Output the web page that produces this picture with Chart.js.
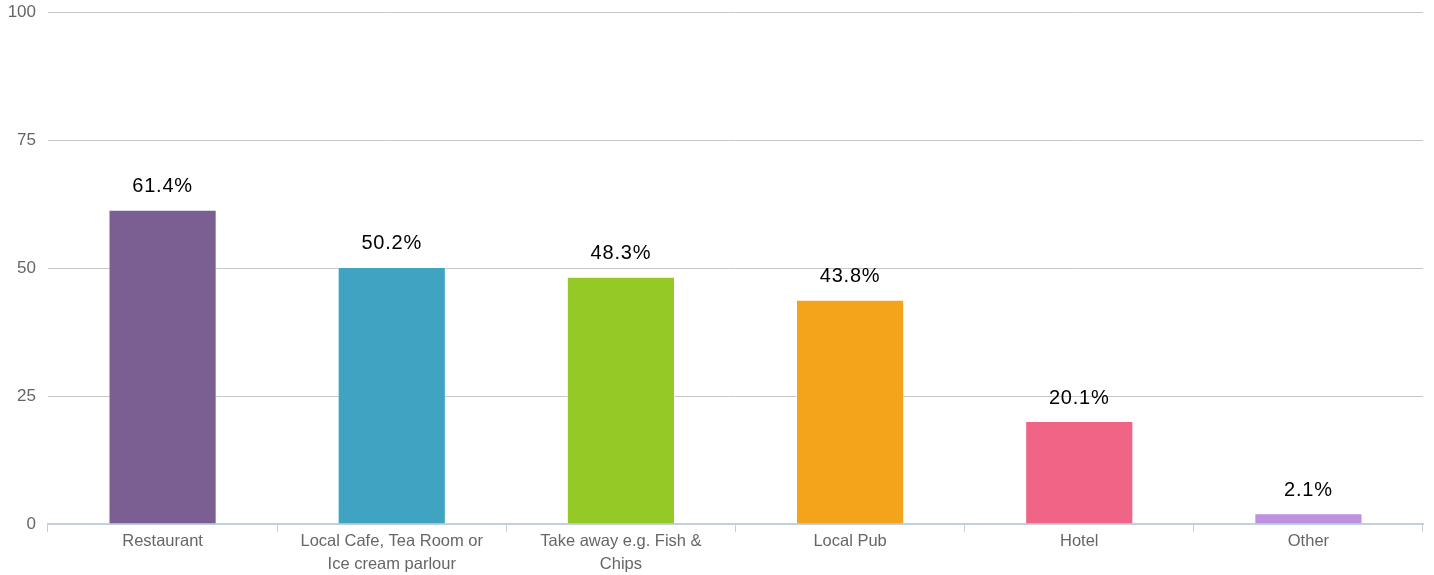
<!DOCTYPE html>
<html>
<head>
<meta charset="utf-8">
<script src="https://cdn.jsdelivr.net/npm/chart.js@4/dist/chart.umd.min.js"></script>
<style>
html,body{margin:0;padding:0;background:#fff;}
#wrap{width:1434px;height:575px;position:relative;}
</style>
</head>
<body>
<div id="wrap"><canvas id="c" width="1434" height="575"></canvas></div>
<script>
const categories = ["Restaurant", ["Local Cafe, Tea Room or","Ice cream parlour"], ["Take away e.g. Fish &","Chips"], "Local Pub", "Hotel", "Other"];
const values = [61.4, 50.2, 48.3, 43.8, 20.1, 2.1];
const barColors = ["#7b5f92", "#3fa3c1", "#95c926", "#f4a41b", "#f06486", "#be90e0"];
const yTicks = [0, 25, 50, 75, 100];

const FONT = '"Liberation Sans", Arial, sans-serif';

const labelPlugin = {
  id: 'valueLabels',
  afterDatasetsDraw(chart) {
    const ctx = chart.ctx;
    const meta = chart.getDatasetMeta(0);
    ctx.save();
    ctx.font = '20px ' + FONT;
    if ('letterSpacing' in ctx) ctx.letterSpacing = '0.8px';
    ctx.fillStyle = '#000';
    ctx.textAlign = 'center';
    ctx.textBaseline = 'middle';
    meta.data.forEach((bar, i) => {
      ctx.fillText(values[i].toFixed(1) + '%', bar.x, bar.y - 23);
    });
    ctx.restore();
  }
};

new Chart(document.getElementById('c'), {
  type: 'bar',
  data: {
    labels: categories,
    datasets: [{
      data: values,
      backgroundColor: barColors,
      borderColor: 'rgba(255,255,255,0.6)',
      borderWidth: 1,
      barPercentage: 1,
      categoryPercentage: 0.472
    }]
  },
  options: {
    responsive: false,
    animation: false,
    layout: { padding: { top: 12, right: 11, left: 0, bottom: 0 } },
    plugins: { legend: { display: false }, tooltip: { enabled: false } },
    scales: {
      y: {
        min: 0, max: 100,
        afterBuildTicks(axis) { axis.ticks = yTicks.map(v => ({ value: v })); },
        afterFit(scale) { scale.width = 48; scale.paddingTop = 0; scale.paddingBottom = 0; },
        border: { display: false },
        grid: {
          drawTicks: false,
          color: (c) => c.tick && c.tick.value === 0 ? 'rgba(0,0,0,0)' : '#c6c6c6',
          lineWidth: 1
        },
        ticks: {
          padding: 12,
          color: '#666',
          font: { family: FONT, size: 17 }
        }
      },
      x: {
        afterFit(scale) { scale.height = 51; },
        border: { display: true, color: '#c0d0e0', width: 2 },
        grid: {
          offset: true,
          drawOnChartArea: false,
          drawTicks: true,
          tickLength: 8,
          color: '#c0d0e0',
          lineWidth: 1
        },
        ticks: {
          padding: -2,
          color: '#666',
          maxRotation: 0,
          autoSkip: false,
          font: { family: FONT, size: 16.5, lineHeight: 1.39 }
        }
      }
    }
  },
  plugins: [labelPlugin]
});
</script>
</body>
</html>
